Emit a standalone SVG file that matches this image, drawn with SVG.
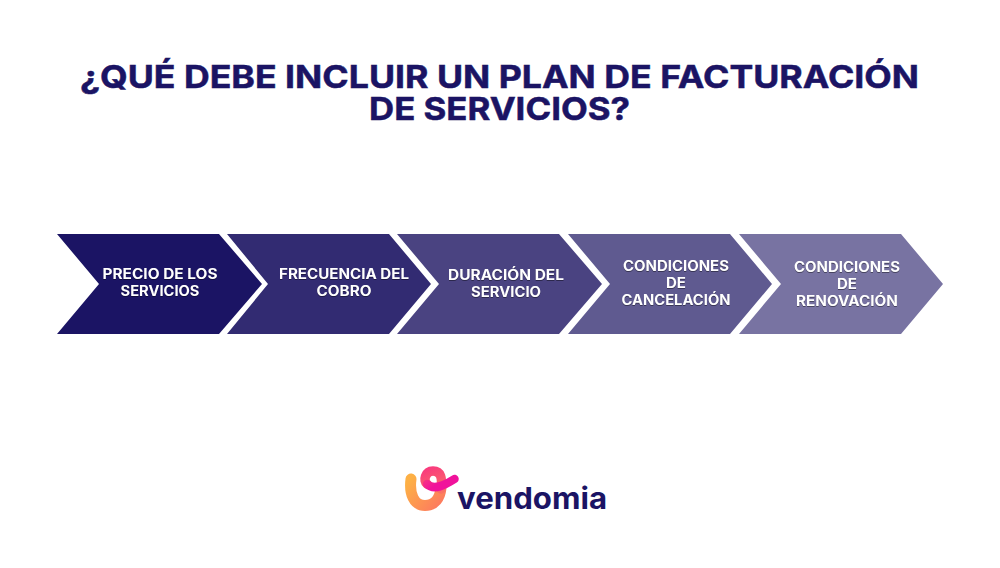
<svg xmlns="http://www.w3.org/2000/svg" width="1000" height="568" viewBox="0 0 1000 568">
<style>
.t{font-family:Inter,"Liberation Sans",sans-serif;font-weight:700;fill:#1b1464;font-size:31.500px;stroke:#1b1464;stroke-width:.5px}
.l{font-family:Inter,"Liberation Sans",sans-serif;font-weight:700;fill:#fff;font-size:14px;text-anchor:middle;filter:drop-shadow(0.5px 1px 0.6px rgba(0,0,0,.4))}
.w{font-family:Inter,"Liberation Sans",sans-serif;font-weight:700;fill:#1b1464;font-size:30px}
</style>
<defs>
<linearGradient id="g1" gradientUnits="userSpaceOnUse" x1="410" y1="480" x2="441" y2="505"><stop offset="0" stop-color="#fdb045"/><stop offset="1" stop-color="#fd7a5f"/></linearGradient>
<linearGradient id="g2" gradientUnits="userSpaceOnUse" x1="441" y1="498" x2="428" y2="466"><stop offset="0" stop-color="#fb7a60"/><stop offset="1" stop-color="#f9377f"/></linearGradient>
<linearGradient id="g3" gradientUnits="userSpaceOnUse" x1="424" y1="478" x2="432" y2="488"><stop offset="0" stop-color="#f9377f"/><stop offset="1" stop-color="#f0129b"/></linearGradient>
</defs>
<rect width="1000" height="568" fill="#fff"/>
<g id="title">
<text class="t"><tspan x="80" y="88" textLength="839" lengthAdjust="spacingAndGlyphs">¿QUÉ DEBE INCLUIR UN PLAN DE FACTURACIÓN</tspan><tspan x="369" y="120" textLength="261" lengthAdjust="spacingAndGlyphs">DE SERVICIOS?</tspan></text>
</g>
<g id="node1"><polygon fill="#1b1464" points="57,234 219,234 262,284 219,334 57,334 99,284"/>
<text class="l" x="160" y="279" textLength="115" lengthAdjust="spacingAndGlyphs">PRECIO DE LOS</text><text class="l" x="160" y="296" textLength="79" lengthAdjust="spacingAndGlyphs">SERVICIOS</text></g>
<g id="node2"><polygon fill="#322b72" points="227,234 389,234 431,284 389,334 227,334 268,284"/>
<text class="l" x="344" y="279" textLength="130" lengthAdjust="spacingAndGlyphs">FRECUENCIA DEL</text><text class="l" x="344" y="296" textLength="55" lengthAdjust="spacingAndGlyphs">COBRO</text></g>
<g id="node3"><polygon fill="#4a4381" points="397,234 559,234 602,284 559,334 397,334 439,284"/>
<text class="l" x="506" y="280" textLength="116" lengthAdjust="spacingAndGlyphs">DURACIÓN DEL</text><text class="l" x="506" y="297" textLength="70" lengthAdjust="spacingAndGlyphs">SERVICIO</text></g>
<g id="node4"><polygon fill="#5f5a90" points="568,234 730,234 772,284 730,334 568,334 610,284"/>
<text class="l" x="676" y="271" textLength="106" lengthAdjust="spacingAndGlyphs">CONDICIONES</text><text class="l" x="676" y="288" textLength="20" lengthAdjust="spacingAndGlyphs">DE</text><text class="l" x="676" y="305" textLength="109" lengthAdjust="spacingAndGlyphs">CANCELACIÓN</text></g>
<g id="node5"><polygon fill="#7873a2" points="739,234 901,234 943,284 901,334 739,334 781,284"/>
<text class="l" x="847" y="272" textLength="106" lengthAdjust="spacingAndGlyphs">CONDICIONES</text><text class="l" x="847" y="289" textLength="20" lengthAdjust="spacingAndGlyphs">DE</text><text class="l" x="847" y="306" textLength="102" lengthAdjust="spacingAndGlyphs">RENOVACIÓN</text></g>
<g id="logo" fill="none" stroke-linecap="round">
<path d="M411 479C409 494 414 505.500 425 505.500C435 505.500 440 498 441 488" stroke="url(#g1)" stroke-width="11"/>
<path d="M441 489C442.500 478 441 471 433 471C425 471 423 481 427 484" stroke="url(#g2)" stroke-width="9.500"/>
<path d="M427 484C434 491 445 485 454.500 479" stroke="url(#g3)" stroke-width="8.500"/>
<text class="w" x="457" y="509" stroke="none" textLength="150" lengthAdjust="spacingAndGlyphs">vendomia</text>
</g>
</svg>
